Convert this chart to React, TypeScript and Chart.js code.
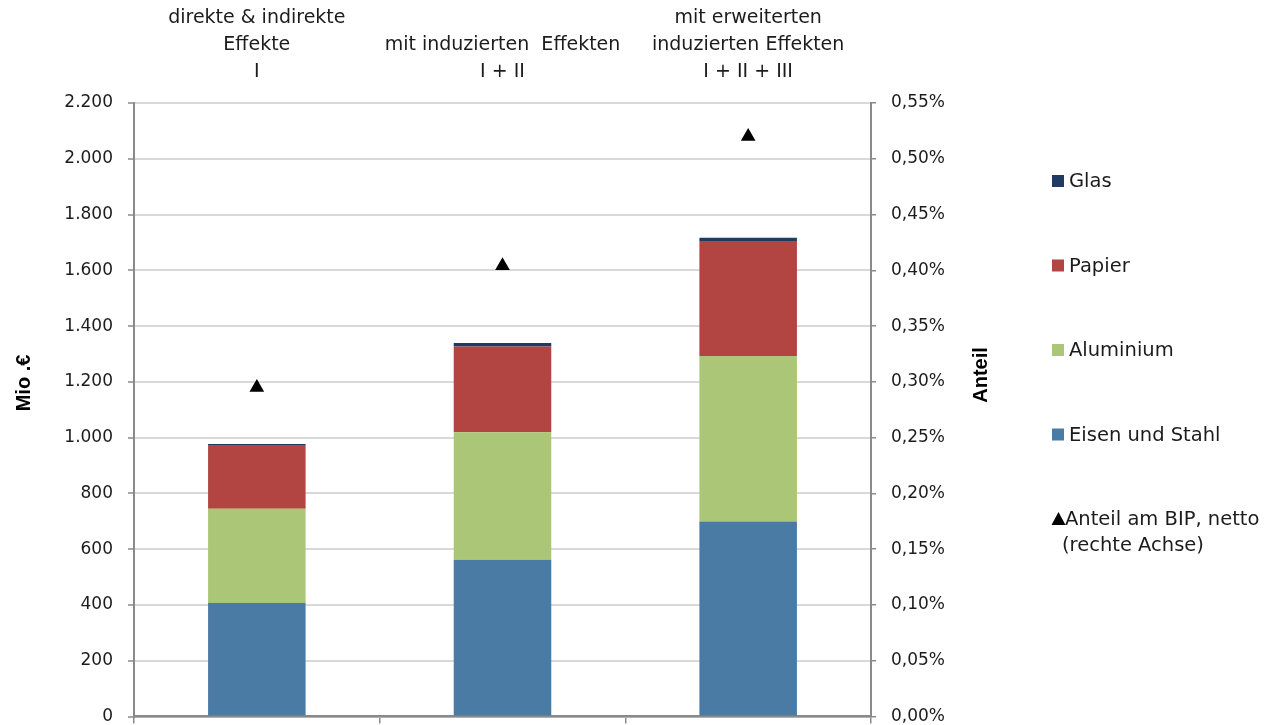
import React, { useEffect, useRef } from "react";
import { Chart, registerables } from "chart.js";

Chart.register(...registerables);

// Categories (top labels, one array of lines per column)
const CATEGORY_KEYS = ["I", "I + II", "I + II + III"];
const TOP_LABELS: string[][] = [
  ["direkte & indirekte", "Effekte", "I"],
  ["mit induzierten  Effekten", "I + II"],
  ["mit erweiterten", "induzierten Effekten", "I + II + III"],
];

// Values in Mio. €
const EISEN_UND_STAHL = [407, 562, 699];
const ALUMINIUM = [338, 457, 594];
const PAPIER = [226, 308, 412];
const GLAS = [6, 12, 12];

// Share of GDP, net, in percent (right axis)
const ANTEIL_BIP = [0.295, 0.404, 0.52];

const LEFT_TICK_STEP = 200;
const LEFT_MAX = 2200;
const RIGHT_TICK_STEP = 0.05;
const RIGHT_MAX = 0.55;

const LEFT_TITLE = "Mio .€";
const RIGHT_TITLE = "Anteil";
const LINE_LABEL_LINES = ["Anteil am BIP, netto", "(rechte Achse)"];

const COLORS = {
  eisen: "#4A7BA5",
  alu: "#ABC676",
  papier: "#B24442",
  glas: "#1F3B63",
  marker: "#000000",
};

const TICK_FONT = { family: "'DejaVu Sans', sans-serif", size: 17 };
const TEXT_COLOR = "#1c1c1c";
const AXIS_COLOR = "#8a8a8a";
const GRID_COLOR = "#d9d9d9";

function formatThousands(v: number): string {
  const s = Math.round(v).toString();
  return s.replace(/\B(?=(\d{3})+(?!\d))/g, ".");
}

// Draws the rotated axis titles and the legend on the right
const overlayPlugin = {
  id: "overlay",
  afterDraw(chart: any) {
    const ctx: CanvasRenderingContext2D = chart.ctx;
    ctx.save();
    ctx.fillStyle = "#000";
    ctx.font = "bold 20px 'Liberation Sans', Arial, sans-serif";
    ctx.textAlign = "center";
    ctx.textBaseline = "middle";

    ctx.save();
    ctx.translate(24, 383);
    ctx.rotate(-Math.PI / 2);
    ctx.fillText(LEFT_TITLE, 0, 0);
    ctx.restore();

    ctx.save();
    ctx.translate(981, 375);
    ctx.rotate(-Math.PI / 2);
    ctx.fillText(RIGHT_TITLE, 0, 0);
    ctx.restore();

    // legend
    const datasets = chart.data.datasets;
    const bars = datasets.filter((d: any) => d.type !== "line").slice().reverse();
    const line = datasets.find((d: any) => d.type === "line");
    const x0 = 1052;
    let y = 181;
    const step = 84.5;
    ctx.font = "19.5px 'DejaVu Sans', sans-serif";
    ctx.textAlign = "left";
    ctx.fillStyle = TEXT_COLOR;
    for (const d of bars) {
      ctx.fillStyle = d.backgroundColor;
      ctx.fillRect(x0, y - 6, 12, 12);
      ctx.fillStyle = TEXT_COLOR;
      ctx.fillText(d.label, x0 + 17, y + 1);
      y += step;
    }
    if (line) {
      ctx.fillStyle = line.pointBackgroundColor;
      ctx.beginPath();
      ctx.moveTo(x0 + 6.5, y - 7);
      ctx.lineTo(x0 + 13.5, y + 6);
      ctx.lineTo(x0 - 0.5, y + 6);
      ctx.closePath();
      ctx.fill();
      ctx.fillStyle = TEXT_COLOR;
      ctx.fillText(LINE_LABEL_LINES[0], x0 + 13, y + 1);
      ctx.fillText(LINE_LABEL_LINES[1], x0 + 10, y + 27);
    }
    ctx.restore();
  },
};

export default function App() {
  const canvasRef = useRef<HTMLCanvasElement | null>(null);

  useEffect(() => {
    const canvas = canvasRef.current;
    if (!canvas) return;
    const chart = new Chart(canvas, {
      type: "bar",
      data: {
        labels: CATEGORY_KEYS,
        datasets: [
          {
            type: "line",
            label: LINE_LABEL_LINES.join(" "),
            data: ANTEIL_BIP,
            yAxisID: "y2",
            xAxisID: "x",
            showLine: false,
            pointStyle: "triangle",
            pointRadius: 8.5,
            pointHoverRadius: 8.5,
            pointBackgroundColor: COLORS.marker,
            pointBorderColor: COLORS.marker,
            pointBorderWidth: 0,
            order: 0,
          } as any,
          {
            label: "Eisen und Stahl",
            data: EISEN_UND_STAHL,
            backgroundColor: COLORS.eisen,
            yAxisID: "y",
            order: 1,
          },
          {
            label: "Aluminium",
            data: ALUMINIUM,
            backgroundColor: COLORS.alu,
            yAxisID: "y",
            order: 1,
          },
          {
            label: "Papier",
            data: PAPIER,
            backgroundColor: COLORS.papier,
            yAxisID: "y",
            order: 1,
          },
          {
            label: "Glas",
            data: GLAS,
            backgroundColor: COLORS.glas,
            yAxisID: "y",
            order: 1,
          },
        ],
      },
      options: {
        responsive: false,
        animation: false,
        devicePixelRatio: 1,
        layout: { padding: { left: 0, right: 267, top: 0, bottom: 0 } },
        datasets: {
          bar: { categoryPercentage: 1, barPercentage: 0.397 },
        },
        plugins: {
          legend: { display: false },
          tooltip: { enabled: false },
        },
        scales: {
          x: {
            type: "category",
            position: "bottom",
            stacked: true,
            offset: true,
            ticks: { display: false },
            grid: {
              offset: true,
              drawOnChartArea: false,
              drawTicks: true,
              tickLength: 7,
              color: AXIS_COLOR,
              lineWidth: 1.5,
            },
            border: { display: true, color: AXIS_COLOR, width: 2.5 },
            afterFit(scale: any) {
              scale.height = 8;
              scale.paddingLeft = 0;
              scale.paddingRight = 0;
            },
          },
          x2: {
            type: "category",
            position: "top",
            offset: true,
            labels: CATEGORY_KEYS,
            grid: { display: false, drawTicks: false },
            border: { display: false },
            ticks: {
              autoSkip: false,
              maxRotation: 0,
              minRotation: 0,
              padding: 17,
              color: TEXT_COLOR,
              font: { family: TICK_FONT.family, size: 19, lineHeight: "27px" } as any,
              callback: (_v: any, i: number) => TOP_LABELS[i],
            },
            afterFit(scale: any) {
              scale.height = 103;
              scale.paddingLeft = 0;
              scale.paddingRight = 0;
            },
          },
          y: {
            type: "linear",
            position: "left",
            stacked: true,
            min: 0,
            max: LEFT_MAX,
            ticks: {
              stepSize: LEFT_TICK_STEP,
              padding: 15,
              color: TEXT_COLOR,
              font: TICK_FONT,
              callback: (v: any) => formatThousands(Number(v)),
            },
            grid: {
              color: GRID_COLOR,
              lineWidth: 2,
              tickLength: 6,
              tickColor: AXIS_COLOR,
              tickWidth: 1.5,
            },
            border: { display: true, color: AXIS_COLOR, width: 2 },
            afterFit(scale: any) {
              scale.width = 134;
              scale.paddingTop = 0;
              scale.paddingBottom = 0;
            },
          },
          y2: {
            type: "linear",
            position: "right",
            min: 0,
            max: RIGHT_MAX,
            ticks: {
              stepSize: RIGHT_TICK_STEP,
              padding: 15,
              color: TEXT_COLOR,
              font: TICK_FONT,
              callback: (v: any) => Number(v).toFixed(2).replace(".", ",") + "%",
            },
            grid: {
              drawOnChartArea: false,
              tickLength: 5,
              color: AXIS_COLOR,
              lineWidth: 1.5,
            },
            border: { display: true, color: AXIS_COLOR, width: 2 },
            afterFit(scale: any) {
              scale.width = 130;
              scale.paddingTop = 0;
              scale.paddingBottom = 0;
            },
          },
        },
      } as any,
      plugins: [overlayPlugin],
    });
    return () => chart.destroy();
  }, []);

  return (
    <div
      style={{
        position: "fixed",
        left: 0,
        top: 0,
        width: 1268,
        height: 725,
        background: "#fff",
      }}
    >
      <canvas ref={canvasRef} width={1268} height={725} />
    </div>
  );
}
